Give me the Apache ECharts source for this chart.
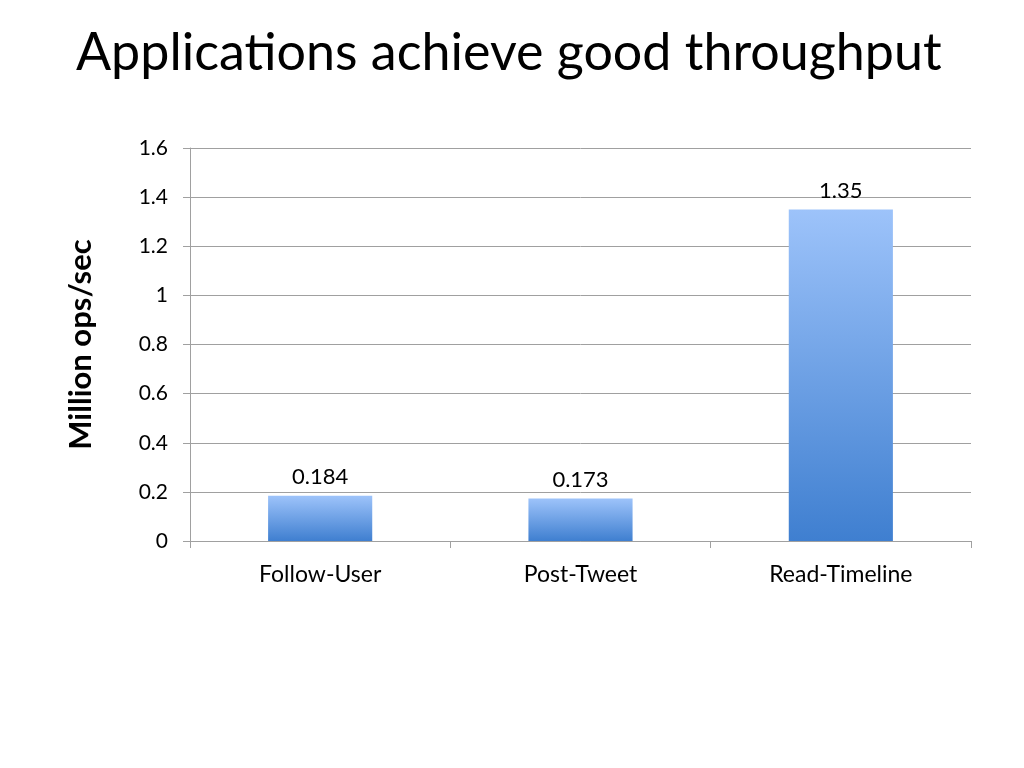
<!DOCTYPE html>
<html>
<head>
<meta charset="utf-8">
<script src="https://cdn.jsdelivr.net/npm/echarts@6/dist/echarts.min.js"></script>
<style>
  html, body, #main { width: 100%; height: 100%; margin: 0; background: #fff; }
</style>
</head>
<body>
<div id="main"></div>
<script>
var categories = ['Follow-User', 'Post-Tweet', 'Read-Timeline'];
var throughput = [0.184, 0.173, 1.35];
var yTicks = [0, 0.2, 0.4, 0.6, 0.8, 1, 1.2, 1.4, 1.6];

var chart = echarts.init(document.getElementById('main'));

var barFill = new echarts.graphic.LinearGradient(0, 0, 0, 1, [
    { offset: 0, color: '#9dc3fa' },
    { offset: 1, color: '#3f7fd0' }
]);

chart.setOption({
    animation: false,
    title: {
        text: 'Applications achieve good throughput',
        left: 71,
        top: 22,
        textStyle: { fontFamily: 'Lato', fontSize: 52, fontWeight: 'normal', color: '#000' }
    },
    grid: { left: 190, right: 53, top: 148, bottom: 227 },
    xAxis: {
        type: 'category',
        data: categories,
        axisLine: { lineStyle: { color: '#a0a0a0' } },
        axisTick: { show: true, length: 7, lineStyle: { color: '#a0a0a0' } },
        axisLabel: { margin: 22, fontFamily: 'Lato', fontSize: 23, color: '#000' }
    },
    yAxis: {
        type: 'value',
        min: 0,
        max: 1.6,
        interval: 0.2,
        name: 'Million ops/sec',
        nameLocation: 'middle',
        nameGap: 94,
        nameRotate: 90,
        nameTextStyle: { fontFamily: 'Lato', fontSize: 31, fontWeight: 'bold', color: '#000' },
        axisLine: { show: true, lineStyle: { color: '#a0a0a0' } },
        axisTick: { show: true, length: 7, lineStyle: { color: '#a0a0a0' } },
        splitLine: { lineStyle: { color: '#a0a0a0' } },
        axisLabel: {
            margin: 22,
            fontFamily: 'Lato',
            fontSize: 21,
            color: '#000',
            formatter: function (v) {
                for (var i = 0; i < yTicks.length; i++) {
                    if (Math.abs(yTicks[i] - v) < 1e-9) return String(yTicks[i]);
                }
                return '';
            }
        }
    },
    series: [{
        type: 'bar',
        data: throughput,
        barWidth: '40%',
        itemStyle: { color: barFill },
        label: {
            show: true,
            position: 'top',
            distance: 8,
            fontFamily: 'Lato',
            fontSize: 22,
            color: '#000'
        }
    }]
});

window.onresize = function () { chart.resize(); };
</script>
</body>
</html>
